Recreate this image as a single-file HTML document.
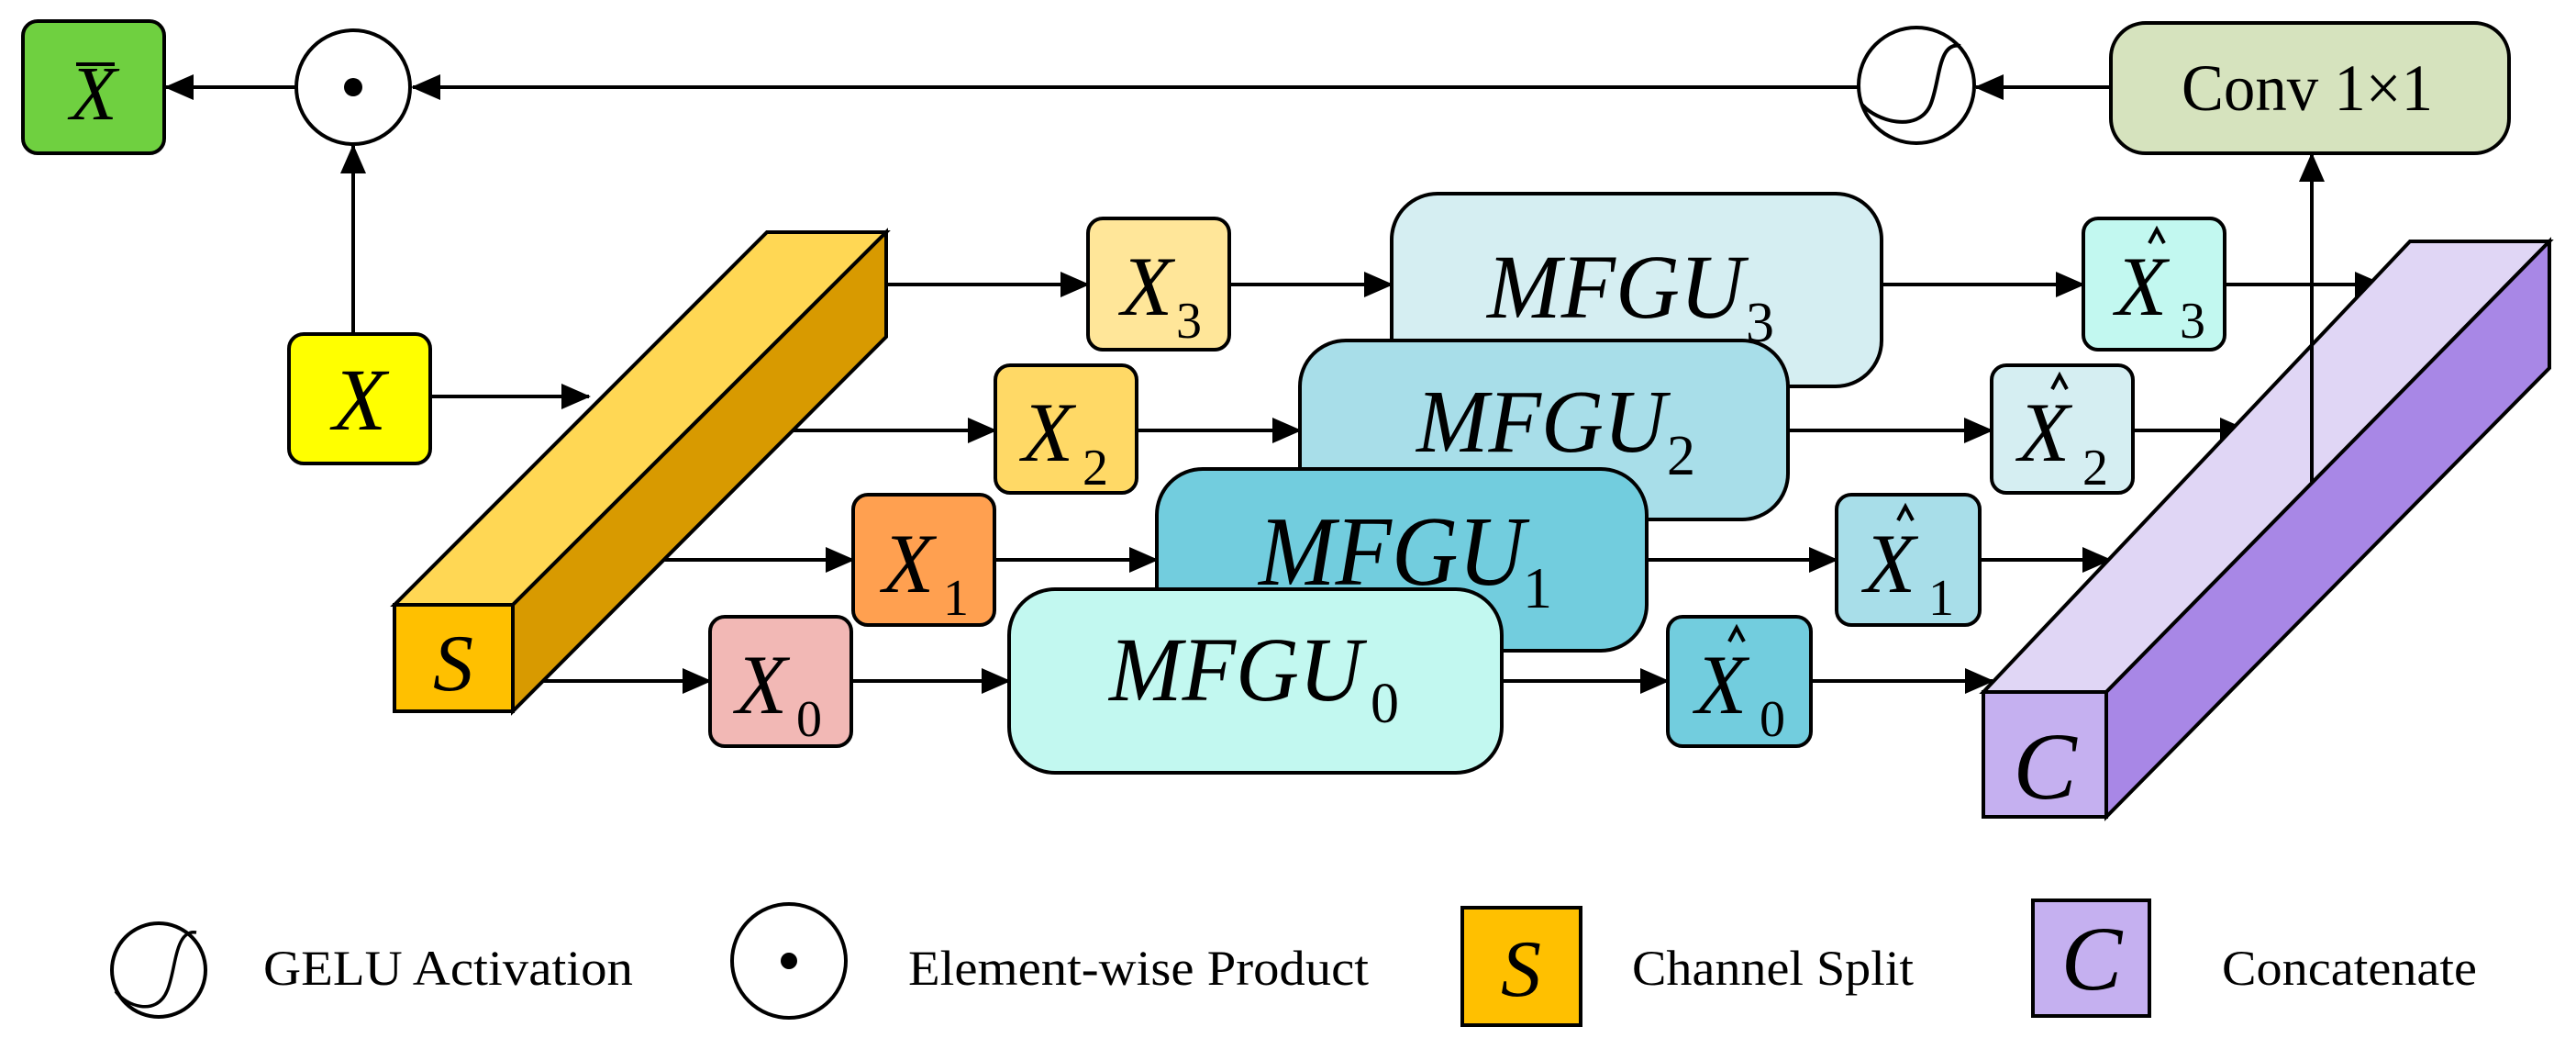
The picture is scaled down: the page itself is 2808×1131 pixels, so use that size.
<!DOCTYPE html>
<html><head><meta charset="utf-8"><style>
html,body{margin:0;padding:0;background:#fff}
svg{display:block}
text{font-family:"Liberation Serif",serif}
.it{font-style:italic}
</style></head><body>
<svg width="2808" height="1131" viewBox="0 0 2808 1131" xmlns="http://www.w3.org/2000/svg">
<defs>
<marker id="a" markerUnits="userSpaceOnUse" markerWidth="32" markerHeight="28" refX="30" refY="14" orient="auto">
<path d="M0,0 L32,14 L0,28 Z" fill="#000"/>
</marker>
</defs>
<g stroke="#000" stroke-width="4" fill="none">
<line x1="2301" y1="95" x2="2154" y2="95" marker-end="url(#a)"/>
<line x1="2026" y1="95" x2="450" y2="95" marker-end="url(#a)"/>
<line x1="323" y1="95" x2="181" y2="95" marker-end="url(#a)"/>
<line x1="385" y1="364" x2="385" y2="159" marker-end="url(#a)"/>
<line x1="469" y1="432" x2="642" y2="432" marker-end="url(#a)"/>
<line x1="966" y1="310" x2="1186" y2="310" marker-end="url(#a)"/>
<line x1="1340" y1="310" x2="1517" y2="310" marker-end="url(#a)"/>
<line x1="2051" y1="310" x2="2271" y2="310" marker-end="url(#a)"/>
<line x1="2425" y1="310" x2="2597" y2="310" marker-end="url(#a)"/>
<line x1="865" y1="469" x2="1085" y2="469" marker-end="url(#a)"/>
<line x1="1239" y1="469" x2="1417" y2="469" marker-end="url(#a)"/>
<line x1="1949" y1="469" x2="2171" y2="469" marker-end="url(#a)"/>
<line x1="2325" y1="469" x2="2450" y2="469" marker-end="url(#a)"/>
<line x1="724" y1="610" x2="930" y2="610" marker-end="url(#a)"/>
<line x1="1084" y1="610" x2="1261" y2="610" marker-end="url(#a)"/>
<line x1="1795" y1="610" x2="2002" y2="610" marker-end="url(#a)"/>
<line x1="2158" y1="610" x2="2300" y2="610" marker-end="url(#a)"/>
<line x1="592" y1="742" x2="774" y2="742" marker-end="url(#a)"/>
<line x1="928" y1="742" x2="1100" y2="742" marker-end="url(#a)"/>
<line x1="1637" y1="742" x2="1818" y2="742" marker-end="url(#a)"/>
<line x1="1974" y1="742" x2="2172" y2="742" marker-end="url(#a)"/>
</g>
<g stroke="#000" stroke-width="4">
<rect x="25" y="23" width="154" height="144" rx="16" fill="#6FD040"/>
<circle cx="385" cy="95" r="62" fill="#fff"/>
<circle cx="2089" cy="93" r="63" fill="#fff"/>
<rect x="2301" y="25" width="434" height="142" rx="38" fill="#D6E3BE"/>
<rect x="315" y="364" width="154" height="141" rx="16" fill="#FFFF00"/>
<polygon points="430,659 559,659 966,253 836,253" fill="#FFD754"/>
<polygon points="559,659 966,253 966,367 559,775" fill="#D89A00"/>
<rect x="430" y="659" width="129" height="116" fill="#FFC000"/>
<rect x="1186" y="238" width="154" height="143" rx="16" fill="#FFE699"/>
<rect x="1517" y="211" width="534" height="210" rx="50" fill="#D5EEF2"/>
<rect x="2271" y="238" width="154" height="143" rx="16" fill="#C2F8F0"/>
<rect x="1085" y="398" width="154" height="139" rx="16" fill="#FFD966"/>
<rect x="1417" y="371" width="532" height="195" rx="50" fill="#A8DEE9"/>
<rect x="2171" y="398" width="154" height="139" rx="16" fill="#D5EEF2"/>
<rect x="930" y="539" width="154" height="142" rx="16" fill="#FFA050"/>
<rect x="1261" y="511" width="534" height="198" rx="50" fill="#72CDDE"/>
<rect x="2002" y="539" width="156" height="142" rx="16" fill="#A8DEE9"/>
<rect x="774" y="672" width="154" height="141" rx="16" fill="#F2B8B5"/>
<rect x="1100" y="642" width="537" height="200" rx="50" fill="#C2F8F0"/>
<rect x="1818" y="672" width="156" height="141" rx="16" fill="#72CDDE"/>
<polygon points="2162,754 2296,754 2779,263 2627,263" fill="#E0D6F5"/>
<polygon points="2296,754 2779,263 2779,401 2296,890" fill="#A887E6"/>
<rect x="2162" y="754" width="134" height="136" fill="#C5B0F0"/>
<circle cx="173" cy="1057" r="51" fill="#fff"/>
<circle cx="860" cy="1047" r="62" fill="#fff"/>
<rect x="1594" y="989" width="129" height="128" fill="#FFC000"/>
<rect x="2216" y="981" width="127" height="126" fill="#C5B0F0"/>
</g>
<line x1="2520" y1="525" x2="2520" y2="168" stroke="#000" stroke-width="4" marker-end="url(#a)"/>
<circle cx="385" cy="95" r="10" fill="#000"/>
<circle cx="860" cy="1047" r="9" fill="#000"/>
<path d="M2030,114 C2045,132 2090,145 2104,115 C2115,90 2112,45 2137,50" stroke="#000" stroke-width="4" fill="none"/>
<path d="M126,1080 C137,1096 170,1108 182,1080 C192,1058 190,1012 214,1016" stroke="#000" stroke-width="3.5" fill="none"/>
<g fill="#000">
<text x="102" y="130" class="it" font-size="84" text-anchor="middle">X</text>
<line x1="83" y1="70" x2="125" y2="70" stroke="#000" stroke-width="4"/>
<text x="2378" y="120" font-size="72" textLength="274" lengthAdjust="spacingAndGlyphs">Conv 1×1</text>
<text x="392" y="468" class="it" font-size="96" text-anchor="middle">X</text>
<text x="494" y="752" class="it" font-size="88" text-anchor="middle">S</text>
<text x="2229" y="870" class="it" font-size="104" text-anchor="middle">C</text>

<text x="1222" y="343" class="it" font-size="92">X</text><text x="1282" y="368" font-size="56">3</text>
<text x="1114" y="502" class="it" font-size="92">X</text><text x="1180" y="528" font-size="56">2</text>
<text x="962" y="645" class="it" font-size="92">X</text><text x="1028" y="670" font-size="56">1</text>
<text x="802" y="777" class="it" font-size="92">X</text><text x="868" y="802" font-size="56">0</text>

<text x="1621" y="346" class="it" font-size="100" textLength="280" lengthAdjust="spacingAndGlyphs">MFGU</text><text x="1903" y="372" font-size="62">3</text>
<text x="1544" y="492" class="it" font-size="98" textLength="272" lengthAdjust="spacingAndGlyphs">MFGU</text><text x="1817" y="517" font-size="62">2</text>
<text x="1372" y="637" class="it" font-size="108" textLength="290" lengthAdjust="spacingAndGlyphs">MFGU</text><text x="1660" y="662" font-size="64">1</text>
<text x="1209" y="763" class="it" font-size="100" textLength="276" lengthAdjust="spacingAndGlyphs">MFGU</text><text x="1494" y="787" font-size="62">0</text>

<text x="2306" y="343" class="it" font-size="92">X</text><text x="2376" y="368" font-size="56">3</text>
<text x="2200" y="502" class="it" font-size="92">X</text><text x="2270" y="528" font-size="56">2</text>
<text x="2032" y="645" class="it" font-size="92">X</text><text x="2102" y="670" font-size="56">1</text>
<text x="1848" y="777" class="it" font-size="92">X</text><text x="1918" y="802" font-size="56">0</text>
</g>
<g stroke="#000" stroke-width="4" fill="none">
<path d="M2343,265 L2351,250 L2359,265"/>
<path d="M2237,424 L2245,409 L2253,424"/>
<path d="M2069,567 L2077,552 L2085,567"/>
<path d="M1885,699 L1893,684 L1901,699"/>
</g>
<g fill="#000" font-size="54">
<text x="287" y="1073" textLength="403" lengthAdjust="spacingAndGlyphs">GELU Activation</text>
<text x="990" y="1073" textLength="502" lengthAdjust="spacingAndGlyphs">Element-wise Product</text>
<text x="1658" y="1085" class="it" font-size="88" text-anchor="middle">S</text>
<text x="1779" y="1073" textLength="307" lengthAdjust="spacingAndGlyphs">Channel Split</text>
<text x="2280" y="1078" class="it" font-size="100" text-anchor="middle">C</text>
<text x="2422" y="1073" textLength="278" lengthAdjust="spacingAndGlyphs">Concatenate</text>
</g>
</svg>
</body></html>
